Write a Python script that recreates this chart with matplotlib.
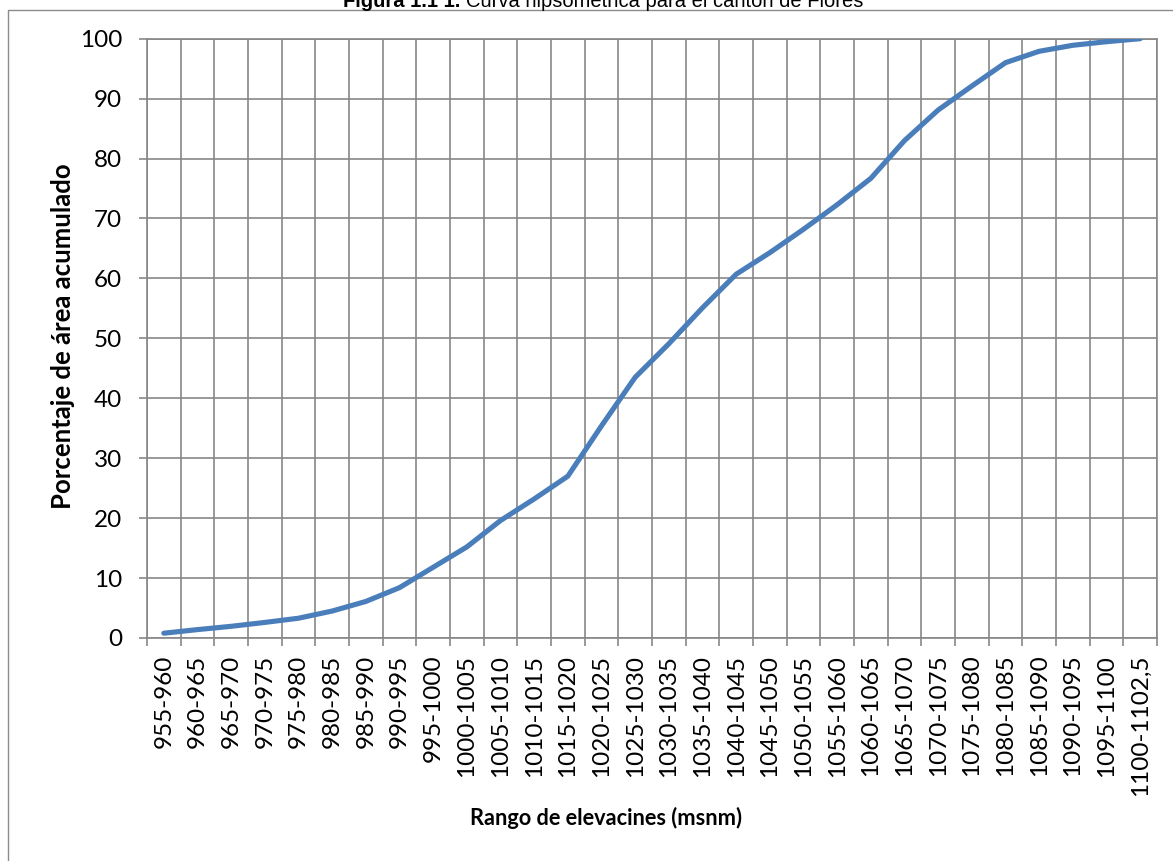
import matplotlib
matplotlib.use("Agg")
import matplotlib.pyplot as plt
from matplotlib.lines import Line2D
import numpy as np

# Elevation ranges (msnm) and cumulative area percentage
rangos = [
    "955-960", "960-965", "965-970", "970-975", "975-980", "980-985",
    "985-990", "990-995", "995-1000", "1000-1005", "1005-1010", "1010-1015",
    "1015-1020", "1020-1025", "1025-1030", "1030-1035", "1035-1040",
    "1040-1045", "1045-1050", "1050-1055", "1055-1060", "1060-1065",
    "1065-1070", "1070-1075", "1075-1080", "1080-1085", "1085-1090",
    "1090-1095", "1095-1100", "1100-1102,5",
]
area_acumulada = [
    0.8, 1.4, 1.95, 2.6, 3.3, 4.5, 6.1, 8.4, 11.8, 15.2,
    19.6, 23.2, 27.0, 35.4, 43.5, 49.1, 55.1, 60.7, 64.3, 68.2,
    72.3, 76.7, 83.0, 88.1, 92.1, 96.0, 97.9, 98.9, 99.5, 100.0,
]
y_ticks = list(range(0, 101, 10))

W, H = 1173, 861
DPI = 100
fig = plt.figure(figsize=(W / DPI, H / DPI), dpi=DPI)

GRID = "#878787"
LABEL_FONT = ["Lato", "DejaVu Sans"]
TICK_SIZE = 17.5

# plot area in pixels
left, right, top, bottom = 147, 1157, 38.7, 638
ax = fig.add_axes([left / W, 1 - bottom / H, (right - left) / W, (bottom - top) / H])

n = len(rangos)
x = np.arange(n)
ax.plot(x, area_acumulada, color="#4A7EBB", lw=3.7, solid_capstyle="round",
        solid_joinstyle="round", zorder=3)

ax.set_xlim(-0.5, n - 0.5)
ax.set_ylim(0, 100)

# vertical gridlines at the category boundaries, labels at the centres
ax.set_xticks(np.arange(n + 1) - 0.5)
ax.set_xticklabels([])
ax.set_xticks(x, minor=True)
ax.set_xticklabels(rangos, minor=True, rotation=90, fontsize=TICK_SIZE,
                   family=LABEL_FONT, va="top", ha="center")
ax.tick_params(axis="x", which="major", length=6, width=1.2, color=GRID,
               direction="out")
ax.tick_params(axis="x", which="minor", length=0, pad=12)

ax.set_yticks(y_ticks)
ax.set_yticklabels([str(v) for v in y_ticks], fontsize=TICK_SIZE, family=LABEL_FONT)
ax.tick_params(axis="y", length=6, width=1.2, color=GRID, direction="out", pad=12)

ax.grid(True, which="major", color=GRID, lw=1.2)
ax.set_axisbelow(True)
for s in ax.spines.values():
    s.set_color(GRID)
    s.set_linewidth(1.2)

# axis titles
fig.text(63 / W, 1 - 336 / H, "Porcentaje de área acumulado", rotation=90,
         ha="center", va="center", fontsize=18.5, fontweight="bold",
         family=LABEL_FONT)
fig.text(606 / W, 1 - 818 / H, "Rango de elevacines (msnm)", ha="center",
         va="center", fontsize=15.7, fontweight="bold", family=LABEL_FONT)

# chart border (left and top edges)
fig.add_artist(Line2D([8 / W, 8 / W, 1.0], [0.0, 1 - 10 / H, 1 - 10 / H],
                      transform=fig.transFigure, color="#8c8c8c", lw=1.0))

# figure caption along the top: bold number followed by regular text
title_font = ["Liberation Sans", "DejaVu Sans"]
TITLE_SIZE = 14.5
renderer = fig.canvas.get_renderer()
t_bold = fig.text(0, 1 - 7 / H, "Figura 1.1 1.", ha="left", va="baseline",
                  fontsize=TITLE_SIZE, fontweight="bold", family=title_font)
t_reg = fig.text(0, 1 - 7 / H, "Curva hipsométrica para el cantón de Flores",
                 ha="left", va="baseline", fontsize=TITLE_SIZE, family=title_font)
wb = t_bold.get_window_extent(renderer).width
wr = t_reg.get_window_extent(renderer).width
gap = 6
x0 = 603 - (wb + gap + wr) / 2
t_bold.set_x(x0 / W)
t_reg.set_x((x0 + wb + gap) / W)

fig.savefig("out.png", dpi=DPI, facecolor="white")
